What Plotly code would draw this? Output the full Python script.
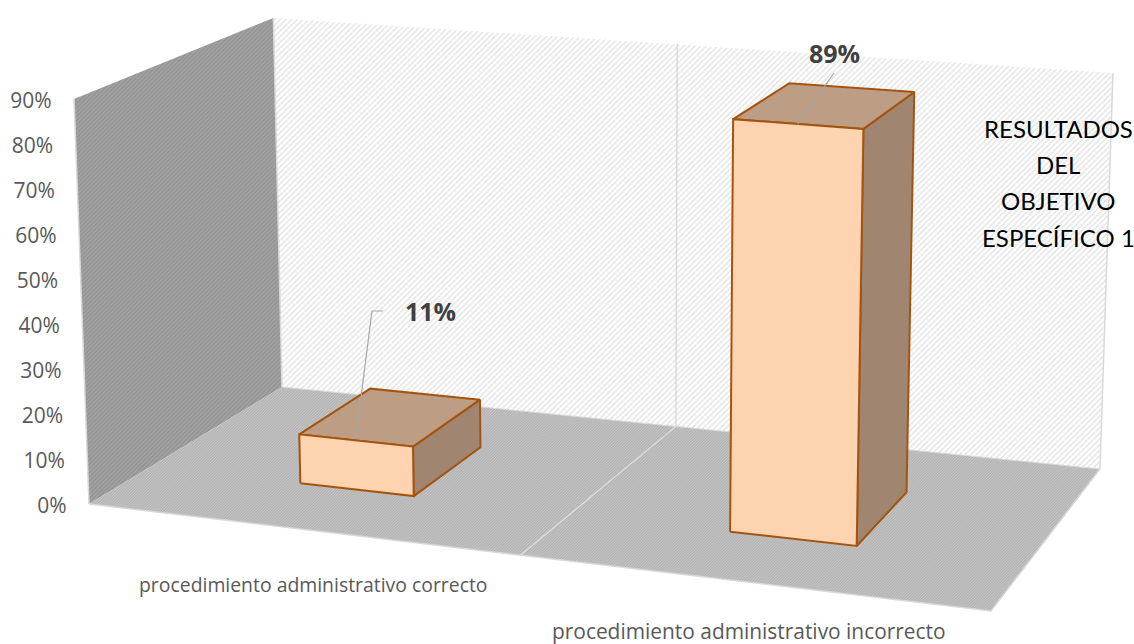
import numpy as np
import plotly.graph_objects as go

# ---- data ----
categories = ["procedimiento administrativo correcto", "procedimiento administrativo incorrecto"]
values = [0.11, 0.89]
value_labels = ["11%", "89%"]
tick_values = [0.0, 0.1, 0.2, 0.3, 0.4, 0.5, 0.6, 0.7, 0.8, 0.9]
tick_labels = ["0%", "10%", "20%", "30%", "40%", "50%", "60%", "70%", "80%", "90%"]
title_lines = ["RESULTADOS", "DEL", "OBJETIVO", "ESPECÍFICO 1"]

# ---- 3D frame of the chart, as seen on the canvas ----
V_MAX = 0.9
FLOOR = [(89, 504), (991, 611), (1100, 469), (282, 387)]   # front-left, front-right, back-right, back-left
FRAME_H = [405, 441, 396, 369]                             # wall height in px at those corners
VANISH = (624, 14990)                                      # vertical vanishing point
CAT_CENTER = [0.2555, 0.7545]
CAT_DIVIDER = 0.507
BAR_HALF = 0.0685
D_FRONT, D_BACK = 0.297, 0.69


def quad_map(q):
    (x0, y0), (x1, y1), (x2, y2), (x3, y3) = q
    dx1, dx2, sx = x1 - x2, x3 - x2, x0 - x1 + x2 - x3
    dy1, dy2, sy = y1 - y2, y3 - y2, y0 - y1 + y2 - y3
    det = dx1 * dy2 - dx2 * dy1
    g = (sx * dy2 - dx2 * sy) / det
    h = (dx1 * sy - sx * dy1) / det
    a, b, c = x1 - x0 + g * x1, x3 - x0 + h * x3, x0
    d, e, f = y1 - y0 + g * y1, y3 - y0 + h * y3, y0

    def m(u, w):
        den = g * u + h * w + 1
        return np.array([(a * u + b * w + c) / den, (d * u + e * w + f) / den])
    return m


floor_map = quad_map(FLOOR)


def project(u, d, v):
    p = floor_map(u, d)
    h0, h1, h2, h3 = FRAME_H
    full = h0 * (1 - u) * (1 - d) + h1 * u * (1 - d) + h2 * u * d + h3 * (1 - u) * d
    height = full * v / V_MAX
    slope = (VANISH[0] - p[0]) / (VANISH[1] - p[1])
    return np.array([p[0] - height * slope, p[1] - height])


def poly(points):
    pts = [project(*p) for p in points]
    pts.append(pts[0])
    return [p[0] for p in pts], [p[1] for p in pts]


fig = go.Figure()


def face(points, color=None, line=None, width=0, pattern=None):
    x, y = poly(points)
    kw = dict(fillpattern=pattern) if pattern else dict(fillcolor=color)
    fig.add_trace(go.Scatter(x=x, y=y, mode="lines", fill="toself", hoverinfo="skip",
                             line=dict(color=line or "rgba(0,0,0,0)", width=width), **kw))


def seg(points, color, width):
    pts = [project(*p) for p in points]
    fig.add_trace(go.Scatter(x=[p[0] for p in pts], y=[p[1] for p in pts], mode="lines",
                             line=dict(color=color, width=width), hoverinfo="skip"))


# walls and floor
face([(0, 0, 0), (0, 1, 0), (0, 1, V_MAX), (0, 0, V_MAX)],
     pattern=dict(shape="/", fgcolor="#a6a6a6", bgcolor="#949494", size=3, solidity=0.4, fillmode="replace"))
face([(0, 1, 0), (1, 1, 0), (1, 1, V_MAX), (0, 1, V_MAX)],
     pattern=dict(shape="/", fgcolor="#e2e2e2", bgcolor="#ffffff", size=4, solidity=0.35, fillmode="replace"))
face([(0, 0, 0), (1, 0, 0), (1, 1, 0), (0, 1, 0)],
     pattern=dict(shape="/", fgcolor="#cfcfcf", bgcolor="#b2b2b2", size=2, solidity=0.45, fillmode="replace"))

# frame lines
EDGE = "#d9d9d9"
seg([(0, 0, 0), (1, 0, 0), (1, 1, 0), (1, 1, V_MAX)], EDGE, 1.5)
seg([(0, 0, 0), (0, 0, V_MAX)], EDGE, 1.5)
seg([(0, 1, 0), (0, 1, V_MAX)], EDGE, 1.5)
seg([(0, 1, 0), (1, 1, 0)], EDGE, 1)
seg([(CAT_DIVIDER, 0, 0), (CAT_DIVIDER, 1, 0), (CAT_DIVIDER, 1, V_MAX)], EDGE, 1.5)

# bars
OUT = "#a5540f"
for c, v in zip(CAT_CENTER, values):
    u0, u1 = c - BAR_HALF, c + BAR_HALF
    d0, d1 = D_FRONT, D_BACK
    face([(u1, d0, 0), (u1, d1, 0), (u1, d1, v), (u1, d0, v)], "#a08570", OUT, 2)
    face([(u0, d0, v), (u1, d0, v), (u1, d1, v), (u0, d1, v)], "#bd9e84", OUT, 2)
    face([(u0, d0, 0), (u1, d0, 0), (u1, d0, v), (u0, d0, v)], "#fdd3b0", OUT, 2)

# data label leaders, anchored on each bar's top front edge
LEADER = "#a6a6a6"
lp0 = project(CAT_CENTER[0], D_FRONT, values[0])
fig.add_trace(go.Scatter(x=[lp0[0], 372, 383], y=[lp0[1] - 2, 311, 311], mode="lines",
                         line=dict(color=LEADER, width=1.2), hoverinfo="skip"))
lp1 = project(CAT_CENTER[1], D_FRONT, values[1])
fig.add_trace(go.Scatter(x=[lp1[0], 834], y=[lp1[1], 73], mode="lines",
                         line=dict(color=LEADER, width=1.2), hoverinfo="skip"))

# value axis tick labels follow the front-left wall edge
tick_pts = [project(0, 0, v) for v in tick_values]
fig.add_trace(go.Scatter(x=[p[0] - 22.5 for p in tick_pts], y=[p[1] + 3.5 for p in tick_pts],
                         mode="text", text=tick_labels, textposition="middle left",
                         textfont=dict(family="Open Sans", size=21, color="#595959"), hoverinfo="skip"))

ann = []
for txt, x, y, s in zip(categories, [313, 749], [584, 631], [19.4, 20.9]):
    ann.append(dict(x=x, y=y, text=txt, showarrow=False, xanchor="center", yanchor="middle",
                    font=dict(family="Open Sans", size=s, color="#595959")))
for txt, x, y in zip(value_labels, [430, 834], [311, 53]):
    ann.append(dict(x=x, y=y, text="<b>" + txt + "</b>", showarrow=False, xanchor="center", yanchor="middle",
                    font=dict(family="Open Sans", size=25, color="#404040")))
for txt, y in zip(title_lines, [128, 164, 200, 237]):
    ann.append(dict(x=1058, y=y, text=txt, showarrow=False, xanchor="center", yanchor="middle",
                    font=dict(family="Lato", size=24, color="#000000")))

fig.update_layout(
    width=1134, height=644, margin=dict(l=0, r=0, t=0, b=0), showlegend=False,
    paper_bgcolor="white", plot_bgcolor="white", annotations=ann,
    xaxis=dict(range=[0, 1134], visible=False, fixedrange=True),
    yaxis=dict(range=[644, 0], visible=False, fixedrange=True),
)
fig.write_html("out.html", post_script="document.body.style.margin='0';document.body.style.overflow='hidden';",
               config={"displayModeBar": False})
